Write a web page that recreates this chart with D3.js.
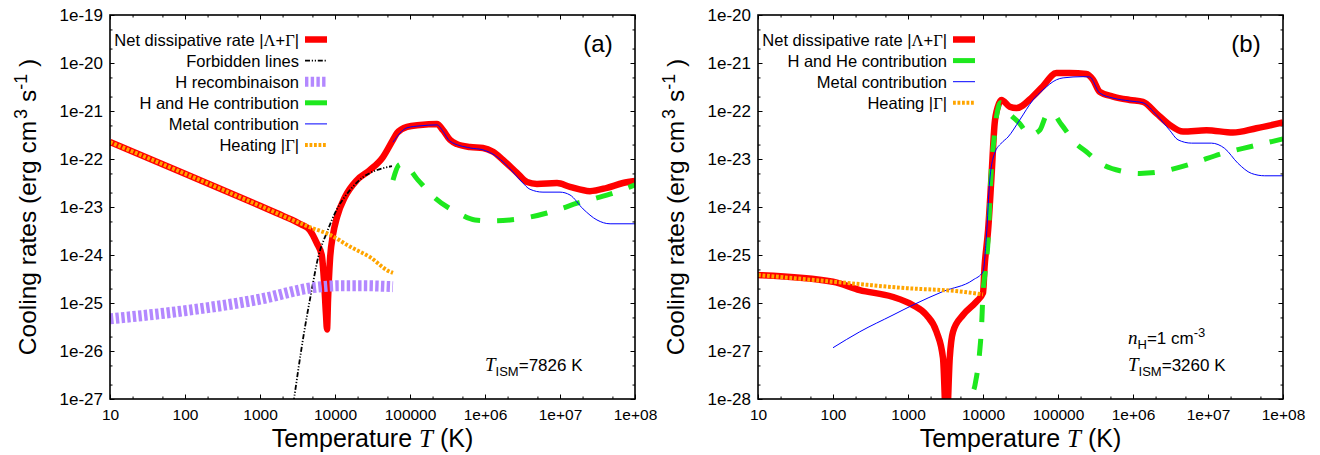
<!DOCTYPE html>
<html><head><meta charset="utf-8">
<script src="https://cdn.jsdelivr.net/npm/d3@7"></script>
<style>
body{margin:0;background:#fff;}
svg{display:block;font-family:"Liberation Sans",Arial,Helvetica,sans-serif;}
</style></head><body>
<svg id="chart" width="1320" height="455"></svg>
<script>
// ---------- tick labels ----------
const xTickValues = [1e1,1e2,1e3,1e4,1e5,1e6,1e7,1e8];
const xTickLabels = ["10","100","1000","10000","100000","1e+06","1e+07","1e+08"];
const yTickValuesA = [1e-27,1e-26,1e-25,1e-24,1e-23,1e-22,1e-21,1e-20,1e-19];
const yTickLabelsA = ["1e-27","1e-26","1e-25","1e-24","1e-23","1e-22","1e-21","1e-20","1e-19"];
const yTickValuesB = [1e-28,1e-27,1e-26,1e-25,1e-24,1e-23,1e-22,1e-21,1e-20];
const yTickLabelsB = ["1e-28","1e-27","1e-26","1e-25","1e-24","1e-23","1e-22","1e-21","1e-20"];

// ---------- panel (a) series ----------
const aNetT    = [10,100,1000,2000,3500,4600,5700,6650,7130,7590,7826,8070,8570,9400,10640,13600,19600,29300,43600,59300,67100,91200,1.36e5,2.29e5,2.75e5,3.41e5,4.24e5,6.31e5,9.4e5,1.28e6,1.74e6,2.67e6,3.63e6,4.93e6,9.12e6,1.36e7,2.51e7,4.24e7,6.92e7,1e8];
const aNetRate = [2.26e-22,4.94e-23,1.06e-23,6.61e-24,4.37e-24,3.31e-24,1.78e-24,1.0e-24,3.02e-25,5.62e-26,2.82e-26,1.15e-25,7.94e-25,2.63e-24,6.17e-24,1.62e-23,3.63e-23,5.89e-23,1.10e-22,2.51e-22,3.47e-22,4.68e-22,5.13e-22,5.37e-22,3.98e-22,2.51e-22,2.04e-22,1.78e-22,1.70e-22,1.41e-22,9.55e-23,5.13e-23,3.31e-23,3.02e-23,3.16e-23,2.63e-23,2.14e-23,2.51e-23,3.16e-23,3.47e-23];

const aForbT    = [2500,2840,3780,4890,5980,7740,10500,15800,23600,36300,57500];
const aForbRate = [2.51e-28,1e-27,1.95e-26,1.86e-25,9.12e-25,2.88e-24,8.71e-24,2.24e-23,4.17e-23,5.89e-23,7.08e-23];

const aRecT    = [10,100,1000,5130,11700,23400,59300];
const aRecRate = [4.68e-26,6.92e-26,1.20e-25,2.09e-25,2.29e-25,2.29e-25,2.19e-25];

const aHHeT    = [59300,71300,80700,1.28e5,2.15e5,4.37e5,7.36e5,1.28e6,2.15e6,3.98e6,6.71e6,1.10e7,1.69e7,3.11e7,5.09e7,8.57e7,1e8];
const aHHeRate = [3.63e-23,7.50e-23,7.94e-23,3.63e-23,1.55e-23,7.50e-24,5.37e-24,5.13e-24,5.37e-24,6.17e-24,7.50e-24,9.55e-24,1.20e-23,1.55e-23,1.95e-23,2.63e-23,2.88e-23];

const aMetalT    = [59300,91200,1.36e5,2.29e5,2.75e5,3.41e5,6.31e5,9.4e5,1.28e6,1.74e6,2.36e6,3.11e6,3.98e6,5.93e6,1e7,1.36e7,2.03e7,3.11e7,4.65e7,1e8];
const aMetalRate = [2.24e-22,4.47e-22,4.90e-22,5.13e-22,3.80e-22,2.34e-22,1.70e-22,1.55e-22,1.26e-22,8.71e-23,5.37e-23,3.31e-23,2.34e-23,2.04e-23,2.04e-23,1.78e-23,9.12e-24,5.37e-24,4.47e-24,4.47e-24];

const aHeatT    = [10,100,1000,4600,8600,16000,29000,54000,59300];
const aHeatRate = [2.26e-22,4.94e-23,1.06e-23,3.80e-24,2.63e-24,1.48e-24,9.12e-25,4.47e-25,4.22e-25];

// ---------- panel (b) series ----------
const bNetT    = [10,100,227,617,1150,1760,2400,2930,3260,3600,3980,5410,8170,10000,10500,11700,12900,14300,15800,17600,22700,27900,46000,62500,95300,1.43e5,2.39e5,2.93e5,3.60e5,5.41e5,9.04e5,1.36e6,2.05e6,3.08e6,4.65e6,9.53e6,2.15e7,4.42e7,1e8];
const bNetRate = [3.83e-26,2.78e-26,1.86e-26,1.35e-26,9.12e-27,5.62e-27,2.51e-27,7.08e-28,2.51e-29,7.08e-28,2.51e-27,5.62e-27,1.07e-26,1.62e-26,5.75e-26,3.31e-25,3.63e-24,5.50e-23,1.23e-22,1.70e-22,1.23e-22,1.15e-22,2.00e-22,3.24e-22,6.17e-22,6.17e-22,5.89e-22,4.47e-22,2.51e-22,2.00e-22,1.70e-22,1.55e-22,8.91e-23,5.13e-23,3.72e-23,3.98e-23,3.55e-23,4.37e-23,5.75e-23];

const bHHeT    = [6760,7080,7820,9120,9550,10000,10500,11700,12900,14300,15100,17200,21400,30800,41900,57000,70800,82400,1.12e5,1.67e5,2.51e5,3.60e5,7.31e5,1.23e6,2.27e6,3.78e6,6.31e6,1.58e7,2.93e7,1e8];
const bHHeRate = [3.16e-29,1e-28,1.95e-28,1.15e-27,3.02e-27,1.62e-26,3.47e-26,2.04e-25,5.89e-24,3.47e-23,7.50e-23,1.48e-22,9.55e-23,5.50e-23,3.16e-23,3.98e-23,8.32e-23,9.12e-23,5.13e-23,2.24e-23,1.33e-23,8.32e-24,5.50e-24,5.01e-24,5.37e-24,6.46e-24,8.13e-24,1.32e-23,1.66e-23,2.63e-23];

const bMetalT    = [100,227,631,1170,2930,7360,10000,11100,12300,14300,17600,21600,30800,46500,63100,95300,1.17e5,2.15e5,2.64e5,3.60e5,5.41e5,9.04e5,1.36e6,2.05e6,3.08e6,3.98e6,6.03e6,1.11e7,1.67e7,2.51e7,3.80e7,5.70e7,1e8];
const bMetalRate = [1.17e-27,2.51e-27,5.62e-27,9.12e-27,1.74e-26,3.02e-26,4.47e-26,2.40e-25,3.63e-24,1.32e-23,2.14e-23,2.88e-23,6.46e-23,1.70e-22,2.75e-22,4.47e-22,4.90e-22,5.19e-22,5.13e-22,2.37e-22,1.86e-22,1.62e-22,1.48e-22,8.32e-23,3.98e-23,2.51e-23,2.14e-23,2.14e-23,1.66e-23,8.13e-24,5.01e-24,4.47e-24,4.47e-24];

const bHeatT    = [10,100,955,4900,10000];
const bHeatRate = [3.83e-26,2.78e-26,2.04e-26,1.74e-26,1.51e-26];

// ---------- legend names ----------
const aLegend = ["net","forb","rec","hhe","metal","heat"];
const bLegend = ["net","hhe","metal","heat"];

// ---------- styles ----------
const styles = {
  net:   {stroke:"#ff0000", width:6.5,dash:null},
  forb:  {stroke:"#000000", width:1.8,dash:"5,1.8,1.2,1.8,1.2,1.8"},
  rec:   {stroke:"#b388ff", width:11, dash:"3.4,2.3"},
  hhe:   {stroke:"#1ee81e", width:5,  dash:"17,17"},
  metal: {stroke:"#0000ff", width:1,  dash:null},
  heat:  {stroke:"#ffa500", width:4,  dash:"2.8,1.7"}
};
const FONT = "'Liberation Sans', Arial, Helvetica, sans-serif";
const SERIF = "'Liberation Serif', 'DejaVu Serif', serif";

const svg = d3.select("#chart");

function zip(T,V){ return T.map((t,i)=>({T:t,v:V[i]})); }

function drawPanel(p){
  const g = svg.append("g");
  const x = d3.scaleLog().domain([1e1,1e8]).range([p.left,p.right]);
  const y = d3.scaleLog().domain([p.yMin,p.yMax]).range([p.bottom,p.top]);

  g.append("clipPath").attr("id","clip"+p.id)
    .append("rect").attr("x",p.left).attr("y",p.top)
    .attr("width",p.right-p.left).attr("height",p.bottom-p.top);

  const minorX=[], minorY=[];
  for(let e=1;e<8;e++){ minorX.push(2*10**e, 5*10**e); }
  const lo=Math.round(Math.log10(p.yMin)), hi=Math.round(Math.log10(p.yMax));
  for(let e=lo;e<hi;e++){ minorY.push(2*10**e, 5*10**e); }

  const MAJ=-4.5, MIN=-2.5;
  function styleAxis(fs){
    return function(sel){
      sel.select(".domain").remove();
      sel.attr("font-family",FONT).attr("font-size",fs);
      sel.selectAll("line").attr("stroke","#000").attr("stroke-width",1);
      sel.selectAll("text").attr("fill","#000");
    };
  }
  g.append("g").attr("transform",`translate(0,${p.bottom})`)
    .call(d3.axisBottom(x).tickValues(xTickValues).tickFormat((d,i)=>xTickLabels[i]).tickSize(MAJ).tickPadding(9.5)).call(styleAxis(15.5));
  g.append("g").attr("transform",`translate(0,${p.bottom})`)
    .call(d3.axisBottom(x).tickValues(minorX).tickFormat("").tickSize(MIN)).call(styleAxis(15.5));
  g.append("g").attr("transform",`translate(0,${p.top})`)
    .call(d3.axisTop(x).tickValues(xTickValues).tickFormat("").tickSize(MAJ)).call(styleAxis(15.5));
  g.append("g").attr("transform",`translate(0,${p.top})`)
    .call(d3.axisTop(x).tickValues(minorX).tickFormat("").tickSize(MIN)).call(styleAxis(15.5));
  g.append("g").attr("transform",`translate(${p.left},0)`)
    .call(d3.axisLeft(y).tickValues(p.yTicks).tickFormat((d,i)=>p.yLabels[i]).tickSize(MAJ).tickPadding(7)).call(styleAxis(17));
  g.append("g").attr("transform",`translate(${p.left},0)`)
    .call(d3.axisLeft(y).tickValues(minorY).tickFormat("").tickSize(MIN)).call(styleAxis(17));
  g.append("g").attr("transform",`translate(${p.right},0)`)
    .call(d3.axisRight(y).tickValues(p.yTicks).tickFormat("").tickSize(MAJ)).call(styleAxis(17));
  g.append("g").attr("transform",`translate(${p.right},0)`)
    .call(d3.axisRight(y).tickValues(minorY).tickFormat("").tickSize(MIN)).call(styleAxis(17));

  const line = d3.line().x(d=>x(d.T)).y(d=>y(d.v)).curve(d3.curveMonotoneX);
  const sg = g.append("g").attr("clip-path",`url(#clip${p.id})`);
  p.series.forEach(s=>{
    const st = styles[s.key];
    sg.append("path").datum(zip(s.T,s.V))
      .attr("d",line).attr("fill","none")
      .attr("stroke",st.stroke).attr("stroke-width",st.width)
      .attr("stroke-linejoin","round")
      .attr("stroke-dasharray",st.dash);
  });

  g.append("rect").attr("x",p.left).attr("y",p.top)
    .attr("width",p.right-p.left).attr("height",p.bottom-p.top)
    .attr("fill","none").attr("stroke","#000").attr("stroke-width",1.6);

  const lg = g.append("g").attr("font-family",FONT).attr("font-size",16.5);
  p.legend.forEach((k,i)=>{
    const yy = p.top + 24.5 + i*21.1;
    const t = lg.append("text").attr("x",p.left+189).attr("y",yy)
      .attr("text-anchor","end").attr("dominant-baseline","central");
    if(k==="net"){
      t.append("tspan").text("Net dissipative rate |");
      t.append("tspan").attr("font-family",SERIF).text("Λ");
      t.append("tspan").text("+");
      t.append("tspan").attr("font-family",SERIF).text("Γ");
      t.append("tspan").text("|");
    } else if(k==="heat"){
      t.append("tspan").text("Heating |");
      t.append("tspan").attr("font-family",SERIF).text("Γ");
      t.append("tspan").text("|");
    } else {
      t.text({forb:"Forbidden lines",rec:"H recombinaison",hhe:"H and He contribution",metal:"Metal contribution"}[k]);
    }
    const st = styles[k];
    lg.append("line").attr("x1",p.left+195).attr("x2",p.left+217)
      .attr("y1",yy).attr("y2",yy)
      .attr("stroke",st.stroke).attr("stroke-width",k==="rec"?10:st.width)
      .attr("stroke-dasharray",k==="hhe"?null:st.dash);
  });

  g.append("text").attr("x",p.left+488).attr("y",51.5).attr("text-anchor","middle")
    .attr("font-family",FONT).attr("font-size",24).text(p.label);

  const xt = g.append("text").attr("x",(p.left+p.right)/2).attr("y",447)
    .attr("text-anchor","middle").attr("font-family",FONT).attr("font-size",25);
  xt.append("tspan").text("Temperature ");
  xt.append("tspan").attr("font-family",SERIF).attr("font-style","italic").text("T");
  xt.append("tspan").text(" (K)");

  const yt = g.append("text").attr("transform",`translate(${p.left-74},207) rotate(-90)`)
    .attr("text-anchor","middle").attr("font-family",FONT).attr("font-size",24.5);
  yt.append("tspan").text("Cooling rates (erg cm");
  yt.append("tspan").attr("font-size",18).attr("dy",-9).attr("dx",2).text("3");
  yt.append("tspan").attr("dy",9).text(" s");
  yt.append("tspan").attr("font-size",18).attr("dy",-9).text("-1");
  yt.append("tspan").attr("dy",9).text(" )");

  p.notes.forEach(n=>{
    const t = g.append("text").attr("x",n.x).attr("y",n.y)
      .attr("font-family",FONT).attr("font-size",17);
    t.append("tspan").attr("font-family",SERIF).attr("font-style","italic").attr("font-size",19).text(n.sym);
    t.append("tspan").attr("dy",5).attr("font-size",13).text(n.sub);
    t.append("tspan").attr("dy",-5).text(n.rest);
    if(n.sup){
      t.append("tspan").attr("dy",-7).attr("font-size",13).text(n.sup);
    }
  });
}

drawPanel({
  id:"A", left:110, right:635, top:15, bottom:399, yMin:1e-27, yMax:1e-19,
  yTicks:yTickValuesA, yLabels:yTickLabelsA, label:"(a)", legend:aLegend,
  series:[
    {key:"net",T:aNetT,V:aNetRate},
    {key:"forb",T:aForbT,V:aForbRate},
    {key:"rec",T:aRecT,V:aRecRate},
    {key:"hhe",T:aHHeT,V:aHHeRate},
    {key:"metal",T:aMetalT,V:aMetalRate},
    {key:"heat",T:aHeatT,V:aHeatRate}
  ],
  notes:[{x:485,y:371,sym:"T",sub:"ISM",rest:"=7826 K"}]
});
drawPanel({
  id:"B", left:758, right:1283, top:15, bottom:399, yMin:1e-28, yMax:1e-20,
  yTicks:yTickValuesB, yLabels:yTickLabelsB, label:"(b)", legend:bLegend,
  series:[
    {key:"net",T:bNetT,V:bNetRate},
    {key:"hhe",T:bHHeT,V:bHHeRate},
    {key:"metal",T:bMetalT,V:bMetalRate},
    {key:"heat",T:bHeatT,V:bHeatRate}
  ],
  notes:[{x:1128,y:344,sym:"n",sub:"H",rest:"=1 cm",sup:"-3"},
         {x:1128,y:371,sym:"T",sub:"ISM",rest:"=3260 K"}]
});
</script>
</body></html>
